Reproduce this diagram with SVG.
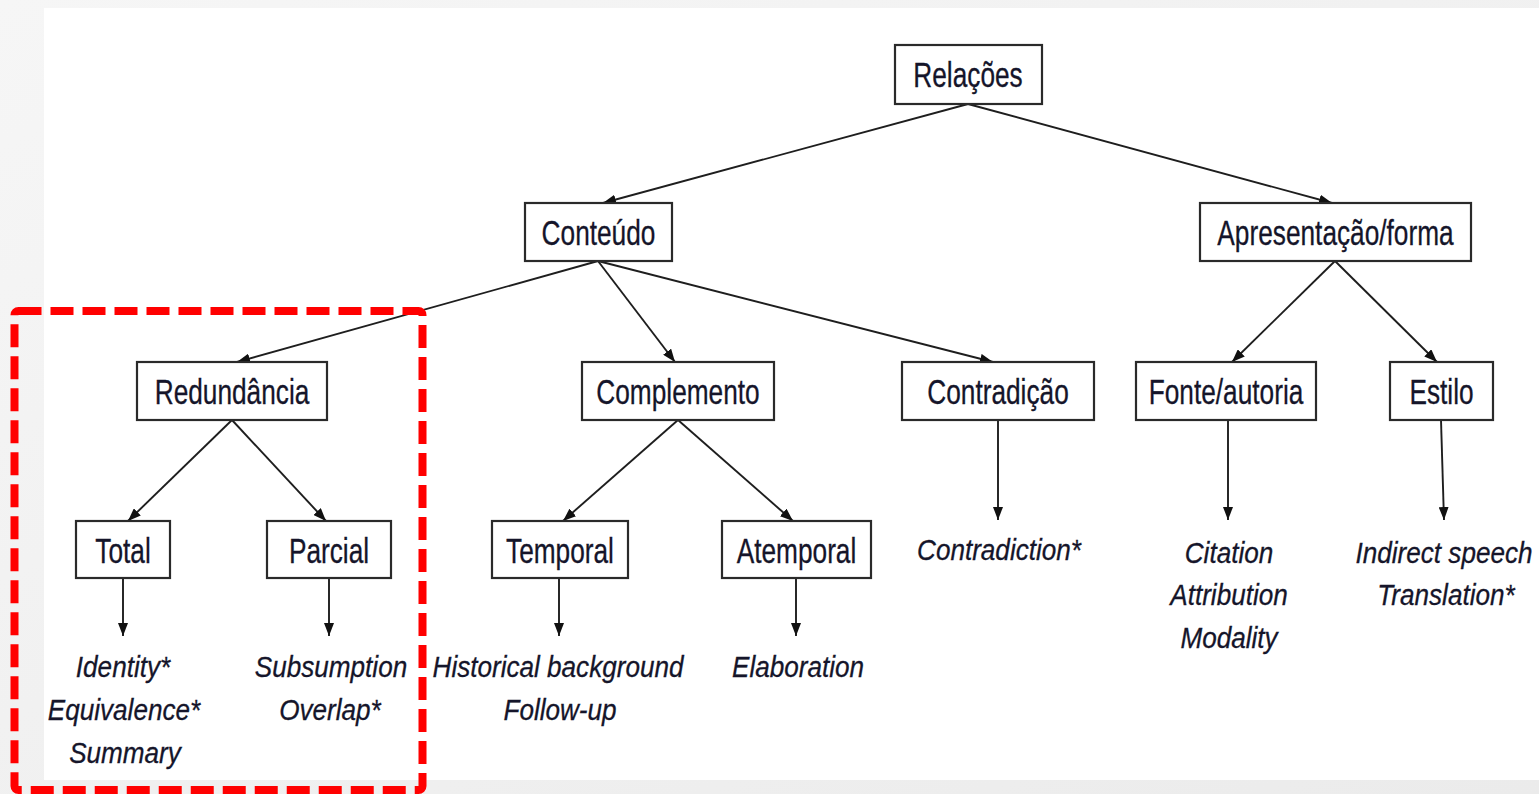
<svg xmlns="http://www.w3.org/2000/svg" width="1539" height="794" viewBox="0 0 1539 794">
<defs>
<marker id="ah" markerUnits="userSpaceOnUse" markerWidth="13" markerHeight="10" refX="13" refY="5" orient="auto">
<path d="M0,0 L13,5 L0,10 z" fill="#111"/>
</marker>
<linearGradient id="bg" x1="0" y1="0" x2="1" y2="1">
<stop offset="0" stop-color="#f6f6f6"/>
<stop offset="1" stop-color="#ebebeb"/>
</linearGradient>
</defs>
<style>
.box{fill:#fff;stroke:#2a2a2a;stroke-width:2.2}
.lbl{font-family:"Liberation Sans",Arial,sans-serif;font-size:35px;fill:#15152a;text-anchor:middle;stroke:#15152a;stroke-width:0.3}
.it{font-family:"Liberation Sans",Arial,sans-serif;font-size:30px;font-style:italic;fill:#15152a;text-anchor:middle;stroke:#15152a;stroke-width:0.3}
.edge{stroke:#1e1e1e;stroke-width:1.9;fill:none;marker-end:url(#ah)}
</style>
<rect x="0" y="0" width="1539" height="794" fill="url(#bg)"/>
<rect x="44" y="8" width="1495" height="772" fill="#fff"/>

<g id="connectors">
<line class="edge" x1="968" y1="104" x2="603" y2="203"/>
<line class="edge" x1="968" y1="104" x2="1332" y2="203"/>
<line class="edge" x1="598" y1="261" x2="237" y2="362"/>
<line class="edge" x1="598" y1="261" x2="675" y2="362"/>
<line class="edge" x1="598" y1="261" x2="993" y2="362"/>
<line class="edge" x1="1335" y1="261" x2="1232" y2="362"/>
<line class="edge" x1="1335" y1="261" x2="1437" y2="362"/>
<line class="edge" x1="232" y1="420" x2="128" y2="521"/>
<line class="edge" x1="232" y1="420" x2="326" y2="521"/>
<line class="edge" x1="678" y1="420" x2="563" y2="521"/>
<line class="edge" x1="678" y1="420" x2="793" y2="521"/>
<line class="edge" x1="998" y1="420" x2="998" y2="520"/>
<line class="edge" x1="1228" y1="420" x2="1228" y2="520"/>
<line class="edge" x1="1441" y1="420" x2="1444" y2="520"/>
<line class="edge" x1="123" y1="579" x2="123" y2="636"/>
<line class="edge" x1="329" y1="579" x2="329" y2="636"/>
<line class="edge" x1="559" y1="579" x2="559" y2="636"/>
<line class="edge" x1="796" y1="579" x2="796" y2="636"/>
</g>

<g id="relacoes"><rect class="box" x="895" y="45" width="147" height="59"/><text class="lbl" transform="translate(968 87) scale(0.75 1)">Relações</text></g>
<g id="conteudo"><rect class="box" x="525" y="203" width="147" height="58"/><text class="lbl" transform="translate(598.5 244.5) scale(0.75 1)">Conteúdo</text></g>
<g id="apresentacao"><rect class="box" x="1200" y="203" width="271" height="58"/><text class="lbl" transform="translate(1335.5 244.5) scale(0.75 1)">Apresentação/forma</text></g>
<g id="redundancia"><rect class="box" x="137" y="362" width="190" height="58"/><text class="lbl" transform="translate(232 403.5) scale(0.75 1)">Redundância</text></g>
<g id="complemento"><rect class="box" x="582" y="362" width="192" height="58"/><text class="lbl" transform="translate(678 403.5) scale(0.75 1)">Complemento</text></g>
<g id="contradicao"><rect class="box" x="902" y="362" width="192" height="58"/><text class="lbl" transform="translate(998 403.5) scale(0.75 1)">Contradição</text></g>
<g id="fonte"><rect class="box" x="1136" y="362" width="180" height="58"/><text class="lbl" transform="translate(1226 403.5) scale(0.75 1)">Fonte/autoria</text></g>
<g id="estilo"><rect class="box" x="1390" y="362" width="103" height="58"/><text class="lbl" transform="translate(1441.5 403.5) scale(0.75 1)">Estilo</text></g>
<g id="total"><rect class="box" x="76" y="521" width="94" height="57"/><text class="lbl" transform="translate(123 562.5) scale(0.75 1)">Total</text></g>
<g id="parcial"><rect class="box" x="267" y="521" width="124" height="57"/><text class="lbl" transform="translate(329 562.5) scale(0.75 1)">Parcial</text></g>
<g id="temporal"><rect class="box" x="492" y="521" width="136" height="57"/><text class="lbl" transform="translate(560 562.5) scale(0.75 1)">Temporal</text></g>
<g id="atemporal"><rect class="box" x="722" y="521" width="149" height="57"/><text class="lbl" transform="translate(796.5 562.5) scale(0.75 1)">Atemporal</text></g>

<g id="leaf-total">
<text class="it" transform="translate(123 677) scale(0.87 1)">Identity*</text>
<text class="it" transform="translate(124 720) scale(0.87 1)">Equivalence*</text>
<text class="it" transform="translate(125 763) scale(0.87 1)">Summary</text>
</g>
<g id="leaf-parcial">
<text class="it" transform="translate(331 677) scale(0.87 1)">Subsumption</text>
<text class="it" transform="translate(330 720) scale(0.87 1)">Overlap*</text>
</g>
<g id="leaf-temporal">
<text class="it" transform="translate(558 677) scale(0.87 1)">Historical background</text>
<text class="it" transform="translate(560 720) scale(0.87 1)">Follow-up</text>
</g>
<g id="leaf-atemporal"><text class="it" transform="translate(798 677) scale(0.87 1)">Elaboration</text></g>
<g id="leaf-contradicao"><text class="it" transform="translate(999 560) scale(0.87 1)">Contradiction*</text></g>
<g id="leaf-fonte">
<text class="it" transform="translate(1229 563) scale(0.87 1)">Citation</text>
<text class="it" transform="translate(1229 605) scale(0.87 1)">Attribution</text>
<text class="it" transform="translate(1229 648) scale(0.87 1)">Modality</text>
</g>
<g id="leaf-estilo">
<text class="it" transform="translate(1444 563) scale(0.87 1)">Indirect speech</text>
<text class="it" transform="translate(1446 605) scale(0.87 1)">Translation*</text>
</g>

<rect id="highlight" x="14.5" y="311" width="408" height="479" rx="4" fill="none" stroke="#ff0000" stroke-width="8" stroke-dasharray="23 9"/>
</svg>
